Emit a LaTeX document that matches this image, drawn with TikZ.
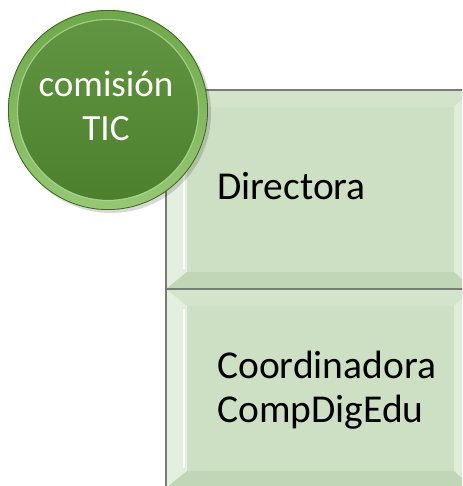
\documentclass[tikz,border=0pt]{standalone}
\usepackage{fontspec}
\setmainfont{Carlito}
\definecolor{boxfill}{RGB}{205,224,196}
\definecolor{boxtop}{RGB}{211,228,203}
\definecolor{boxleft}{RGB}{228,240,223}
\definecolor{boxright}{RGB}{222,236,216}
\definecolor{boxbot}{RGB}{193,214,183}
\definecolor{boxline}{RGB}{120,124,120}
\definecolor{ringcol}{RGB}{110,168,74}
\definecolor{ringhi}{RGB}{150,200,115}
\definecolor{discol}{RGB}{84,140,50}
\definecolor{discdark}{RGB}{76,128,44}
\tikzset{
  circtext/.style={font=\fontsize{37}{44}\selectfont, inner sep=0pt, text=white, align=center},
  boxtext/.style={font=\fontsize{39.5}{44}\selectfont, inner sep=0pt, text=black, anchor=base west}
}
\begin{document}
\begin{tikzpicture}[x=1pt,y=-1pt]
\useasboundingbox (0,0) rectangle (462,486);
\clip (0,0) rectangle (462,486);
% boxes
\foreach \t/\b in {90/289,289/488}{
  \fill[boxfill] (166,\t) rectangle (472,\b);
  \fill[boxtop] (166,\t) -- (472,\t) -- (454,\t+17) -- (187,\t+17) -- cycle;
  \fill[boxleft] (166,\t) -- (187,\t+17) -- (187,\b-17) -- (166,\b) -- cycle;
  \fill[boxright] (472,\t) -- (454,\t+17) -- (454,\b-17) -- (472,\b) -- cycle;
  \fill[boxbot] (166,\b) -- (187,\b-17) -- (454,\b-17) -- (472,\b) -- cycle;
  \draw[white, line width=1.5pt] (184,\t+20) -- (184,\b-20);
  \draw[boxline, line width=1.2pt] (166,\b) -- (166,\t) -- (472,\t);
}
\draw[boxline, line width=1.5pt] (166,289) -- (472,289);
% circle
\fill[black, opacity=0.15] (111,113) circle (100);
\shade[top color=ringcol, bottom color=ringhi] (108,110) circle (100);
\draw[discdark!80!black, line width=0.8pt] (108,110) circle (99.6);
\shade[top color=discol!92!white, bottom color=discdark] (108,110) circle (90);
\draw[ringhi!70!white, line width=1.2pt, opacity=0.7] (108,110) circle (90.5);
% texts
\node[circtext] (c) at (106,106) {comisión\\TIC};
\node[boxtext] (d) at (217,200) {Directora};
\node[boxtext] (e) at (217,378) {Coordinadora};
\node[boxtext] (f) at (217,422) {CompDigEdu};
\end{tikzpicture}
\end{document}
